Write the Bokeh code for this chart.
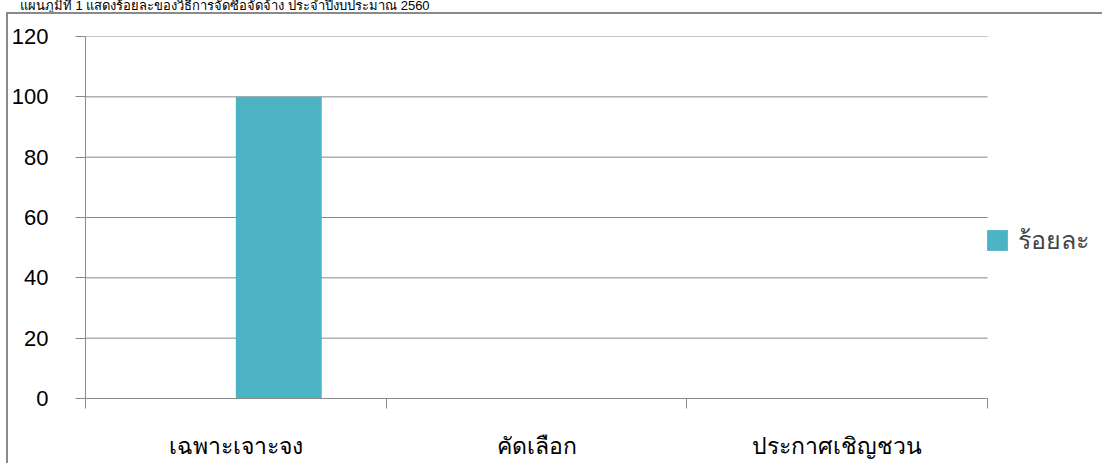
from bokeh.plotting import figure
from bokeh.layouts import column
from bokeh.models import (FixedTicker, Range1d, Legend, LegendItem, Div,
                          InlineStyleSheet)
from bokeh.embed import file_html
from bokeh.resources import INLINE

categories = ["เฉพาะเจาะจง", "คัดเลือก", "ประกาศเชิญชวน"]
percent = [100, 0, 0]
series_name = "ร้อยละ"
y_ticks = [0, 20, 40, 60, 80, 100, 120]
title_text = "แผนภูมิที่ 1 แสดงร้อยละของวิธีการจัดซื้อจัดจ้าง ประจำปีงบประมาณ 2560"

FONT = "Liberation Sans"
GRAY = "#8a8a8a"
BAR = "#4bb3c4"

W, H = 1102, 463
TITLE_H = 12
LEFT, TOP, BOTTOM = 85, 24, 65
PLOT_W = 902  # pixel width of the category area

n = len(categories)
gap_width = 1.5
bar_w = 1.0 / (2 + gap_width)
centers = [i + 0.5 for i in range(n)]
xs = [c + bar_w / 2 for c in centers]
x_end = n * (W - LEFT) / PLOT_W

title = Div(text=title_text, width=W - 20, height=TITLE_H, margin=0,
            styles={"font-family": FONT, "font-size": "13px", "line-height": "12px",
                    "padding-left": "20px", "white-space": "nowrap",
                    "color": "black", "overflow": "visible"})

p = figure(width=W, height=H - TITLE_H, x_range=Range1d(0, x_end),
           y_range=Range1d(0, 120),
           output_backend="svg", toolbar_location=None,
           min_border_left=LEFT, min_border_right=0, min_border_top=TOP,
           min_border_bottom=BOTTOM, margin=0)
p.outline_line_color = None
p.background_fill_color = "white"
p.border_fill_color = "white"

# horizontal gridlines limited to the category area
p.xgrid.grid_line_color = None
p.ygrid.grid_line_color = None
p.segment(x0=0, x1=n, y0=y_ticks[1:], y1=y_ticks[1:], line_color=GRAY, line_width=1)

r = p.vbar(x=xs, top=percent, width=bar_w, fill_color=BAR, line_color=None)

# y axis
p.yaxis.ticker = FixedTicker(ticks=y_ticks)
p.yaxis.major_tick_out = 10
p.yaxis.major_tick_in = 0
p.yaxis.minor_tick_out = 0
p.yaxis.minor_tick_in = 0
p.yaxis.axis_line_color = GRAY
p.yaxis.major_tick_line_color = GRAY
p.yaxis.major_label_standoff = 27
p.yaxis.major_label_text_font = FONT
p.yaxis.major_label_text_font_size = "22px"
p.yaxis.major_label_text_color = "black"

# x axis: labels at centers, ticks at boundaries
p.xaxis.ticker = FixedTicker(ticks=centers, minor_ticks=list(range(n + 1)))
p.xaxis.major_label_overrides = {c: cat for c, cat in zip(centers, categories)}
p.xaxis.bounds = (0, n)
p.xaxis.major_tick_out = 0
p.xaxis.major_tick_in = 0
p.xaxis.minor_tick_out = 10
p.xaxis.minor_tick_in = 0
p.xaxis.minor_tick_line_color = GRAY
p.xaxis.axis_line_color = GRAY
p.xaxis.major_label_standoff = 24
p.xaxis.major_label_text_font = FONT
p.xaxis.major_label_text_font_size = "23px"
p.xaxis.major_label_text_color = "black"

legend = Legend(items=[LegendItem(label=series_name, renderers=[r])],
                location=(PLOT_W - 3, 138), orientation="vertical",
                glyph_width=26, glyph_height=26, label_standoff=8,
                padding=0, margin=0, spacing=0,
                border_line_color=None, background_fill_alpha=0,
                label_text_font=FONT, label_text_font_size="25px")
p.add_layout(legend)

p.stylesheets = [InlineStyleSheet(css=(
    ":host { position: relative; }"
    ":host::after { content: ''; position: absolute; left: 6px; top: 0px; "
    "right: 0px; bottom: 0px; border-left: 2px solid #8a8a8a; "
    "border-top: 2px solid #8a8a8a; pointer-events: none; z-index: 10; }"
))]

layout = column(title, p, spacing=0, margin=0)

open("out.html", "w").write(file_html(layout, INLINE))
